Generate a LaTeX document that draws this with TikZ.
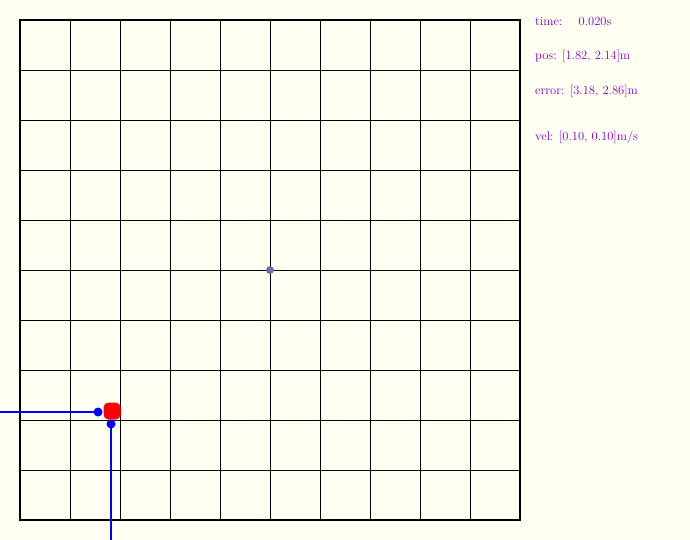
\documentclass[tikz,border=0pt]{standalone}
\begin{document}
\begin{tikzpicture}[x=1pt,y=-1pt,
  bg/.style={fill={rgb,255:red,255;green,255;blue,242}, draw=none},
  info/.style={anchor=west, inner sep=0pt, text={rgb,255:red,128;green,0;blue,200}, font=\fontsize{12.5}{14}\selectfont},
  bluedot/.style={circle, fill=blue, inner sep=0pt, minimum size=9pt},
  bluepath/.style={draw=blue, line width=2.8pt},
  robot/.style={rectangle, rounded corners=5pt, fill=red, inner sep=0pt, minimum size=17pt},
  target/.style={circle, fill={rgb,255:red,110;green,110;blue,170}, inner sep=0pt, minimum size=8pt}]
\path[bg] (0,0) rectangle (690,540);
\useasboundingbox (0,0) rectangle (690,540);
% grid
\foreach \i in {1,...,9} {
  \draw[line width=0.8pt] (20+50*\i,20) -- (20+50*\i,520);
  \draw[line width=0.8pt] (20,20+50*\i) -- (520,20+50*\i);
}
\draw[line width=2.8pt] (20,20) rectangle (520,520);
% target
\node[target] (tgt) at (270,270) {};
% robot
\coordinate (left) at (0,412);
\coordinate (bottom) at (111,540);
\node[bluedot] (hx) at (98,412) {};
\node[bluedot] (hy) at (111,424) {};
\draw[bluepath] (left) -- (hx.center);
\draw[bluepath] (bottom) -- (hy.center);
\node[robot] (rob) at (112,411) {};
% info
\node[info] (t) at (535,21) {time:\hspace{1.3em}0.020s};
\node[info] (p) at (535,56) {pos: [1.82, 2.14]m};
\node[info] (e) at (535,91) {error: [3.18, 2.86]m};
\node[info] (v) at (535,137) {vel: [0.10, 0.10]m/s};
\end{tikzpicture}
\end{document}
